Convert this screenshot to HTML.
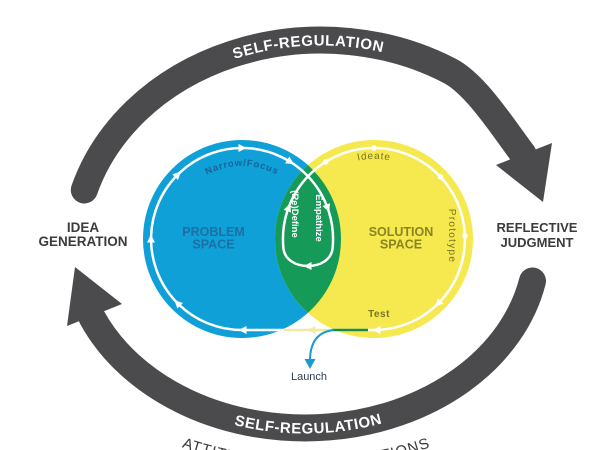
<!DOCTYPE html>
<html><head><meta charset="utf-8"><style>
html,body{margin:0;padding:0;background:#fff;}
svg{display:block;}
text{font-family:"Liberation Sans",Arial,sans-serif;}
</style></head><body>
<svg width="600" height="450" viewBox="0 0 600 450" xmlns="http://www.w3.org/2000/svg">
<defs>
<clipPath id="cb"><circle cx="242" cy="239" r="99"/></clipPath>
<path id="tp1" d="M79.5,250 A241.5 204.5 0 0 1 562.5,250"/>
<path id="tp2" d="M67.5,245 A237.5 188.5 0 0 0 542.5,245"/>
<path id="tp3" d="M-74,88 A380 380 0 0 0 686,88"/>
<path id="tpN" d="M173.4,214 A73 73 0 0 1 310.6,214"/>
<path id="tpI" d="M298.8,211.6 A80 80 0 0 1 449.2,211.6"/>
</defs>
<rect width="600" height="450" fill="#fff"/>

<!-- big arcs -->
<path d="M84.3,190 A247 210 0 0 1 450,71 C476.6,84.9 504.8,130.2 523,154" fill="none" stroke="#4b4b4d" stroke-width="27" stroke-linecap="round"/>
<polygon points="552,143 496,165 543,202" fill="#4b4b4d"/>
<path d="M532.5,281 A232 183 0 0 1 91.8,317" fill="none" stroke="#4b4b4d" stroke-width="27" stroke-linecap="round"/>
<polygon points="75,267 67,326 122,304" fill="#4b4b4d"/>

<text font-size="15" font-weight="bold" fill="#fff" letter-spacing="0.6"><textPath href="#tp1" startOffset="338" text-anchor="middle">SELF-REGULATION</textPath></text>
<text font-size="15" font-weight="bold" fill="#fff" letter-spacing="0.6"><textPath href="#tp2" startOffset="339" text-anchor="middle">SELF-REGULATION</textPath></text>
<text font-size="15" fill="#3a3a3a" letter-spacing="1"><textPath href="#tp3" startOffset="597" text-anchor="middle">ATTITUDES AND DISPOSITIONS</textPath></text>

<!-- circles -->
<circle cx="242" cy="239" r="99" fill="#0fa0d8"/>
<circle cx="374" cy="239" r="99" fill="#f6e94f"/>
<circle cx="374" cy="239" r="99" fill="#169a58" clip-path="url(#cb)"/>

<!-- white path -->
<path d="M374,330 L242,330 A91 91 0 1 1 332.7,246.9 C332,260 320,266 308,266 C296,266 284,260 283.3,246.9 A91 91 0 1 1 374,330 Z" fill="none" stroke="#fff" stroke-width="2.5"/>
<line x1="284" y1="330" x2="333" y2="330" stroke="#f0eaa2" stroke-width="2.5"/>
<line x1="332" y1="330" x2="368" y2="330" stroke="#1b8a4c" stroke-width="2.5"/>
<path d="M334,330 C318,331.5 310,342 310,361" fill="none" stroke="#1a9ad0" stroke-width="2"/>
<polygon points="310,369 304.5,359 315.5,359" fill="#1a9ad0"/>

<g fill="#fff">
<polygon points="4.5,0 -3.5,-4 -3.5,4" transform="translate(151,239) rotate(270)"/>
<polygon points="4.5,0 -3.5,-4 -3.5,4" transform="translate(177.7,174.7) rotate(315)"/>
<polygon points="4.5,0 -3.5,-4 -3.5,4" transform="translate(242,148) rotate(0)"/>
<polygon points="4.5,0 -3.5,-4 -3.5,4" transform="translate(290.2,161.8) rotate(32)"/>
<polygon points="4.5,0 -3.5,-4 -3.5,4" transform="translate(177.7,303.3) rotate(225)"/>
<polygon points="4.5,0 -3.5,-4 -3.5,4" transform="translate(243,330) rotate(180)"/>
<polygon points="4.5,0 -3.5,-4 -3.5,4" transform="translate(327.5,207.9) rotate(70)"/>
<polygon points="4.5,0 -3.5,-4 -3.5,4" transform="translate(308,266) rotate(180)"/>
<polygon points="4.5,0 -3.5,-4 -3.5,4" transform="translate(288.5,207.9) rotate(290)"/>
<polygon points="4.5,0 -3.5,-4 -3.5,4" transform="translate(438.3,303.3) rotate(135)"/>
<polygon points="4.5,0 -3.5,-4 -3.5,4" transform="translate(377,330) rotate(180)"/>
<circle cx="325.8" cy="161.8" r="2.8"/>
<circle cx="374" cy="148" r="2.8"/>
<circle cx="440.6" cy="176.9" r="2.8"/>
<circle cx="464.9" cy="235.8" r="2.8"/>
</g>
<polygon points="4.5,0 -3.5,-4 -3.5,4" transform="translate(312,330) rotate(180)" fill="#f0eaa2"/>

<!-- labels -->
<text font-size="9.5" font-weight="bold" fill="#17639a" letter-spacing="0.8"><textPath href="#tpN" startOffset="50%" text-anchor="middle">Narrow/Focus</textPath></text>
<text font-size="10" fill="#7a7420" letter-spacing="0.8"><textPath href="#tpI" startOffset="50%" text-anchor="middle">Ideate</textPath></text>

<text font-size="12.5" font-weight="bold" fill="#1d6fa5" text-anchor="middle"><tspan x="213.5" y="236">PROBLEM</tspan><tspan x="213.5" y="248.5">SPACE</tspan></text>
<text font-size="12.5" font-weight="bold" fill="#8a8420" text-anchor="middle"><tspan x="401" y="236">SOLUTION</tspan><tspan x="401" y="248.5">SPACE</tspan></text>

<text font-size="9.5" font-weight="bold" fill="#fff" text-anchor="middle" transform="translate(316,218) rotate(90)">Empathize</text>
<text font-size="9.5" font-weight="bold" fill="#fff" text-anchor="middle" transform="translate(292,214) rotate(90)">(Re)Define</text>
<text font-size="10" fill="#7a7420" letter-spacing="1.3" text-anchor="middle" transform="translate(449,236) rotate(90)">Prototype</text>
<text x="379" y="317" font-size="10" font-weight="bold" fill="#7a7420" text-anchor="middle" letter-spacing="0.5">Test</text>
<text x="309" y="380" font-size="11" fill="#2c3e50" text-anchor="middle">Launch</text>

<text font-size="13.5" font-weight="bold" fill="#3b3b3b" text-anchor="middle"><tspan x="83" y="232">IDEA</tspan><tspan x="83" y="246">GENERATION</tspan></text>
<text font-size="13" font-weight="bold" fill="#3b3b3b" text-anchor="middle"><tspan x="537" y="232">REFLECTIVE</tspan><tspan x="537" y="247">JUDGMENT</tspan></text>
</svg>
</body></html>
